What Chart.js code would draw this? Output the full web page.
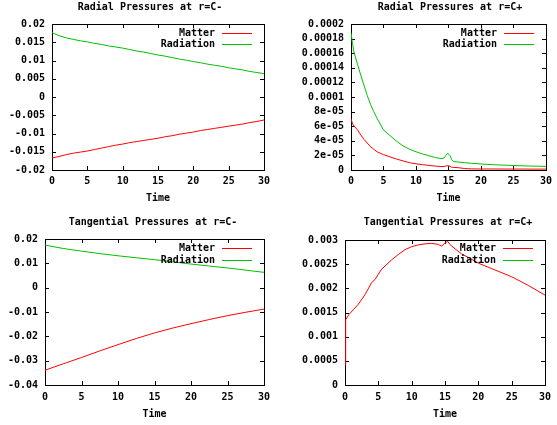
<!DOCTYPE html>
<html>
<head>
<meta charset="utf-8">
<script src="https://cdn.jsdelivr.net/npm/chart.js@4/dist/chart.umd.min.js"></script>
<style>
  html, body { margin: 0; padding: 0; background: #fff; }
  #wrap { position: relative; width: 557px; height: 425px; overflow: hidden; }
  canvas { position: absolute; }
</style>
</head>
<body>
<div id="wrap">
  <canvas id="c1" width="278" height="212" style="left:0;top:0"></canvas>
  <canvas id="c2" width="279" height="212" style="left:278px;top:0"></canvas>
  <canvas id="c3" width="278" height="213" style="left:0;top:212px"></canvas>
  <canvas id="c4" width="279" height="213" style="left:278px;top:212px"></canvas>
</div>
<script>
// ---------- DATA ----------
const seriesNames = ["Matter", "Radiation"];
const xLabel = "Time";
const xTicks = [0, 5, 10, 15, 20, 25, 30];

// Panel 1: Radial Pressures at r=C-
const radMinusTitle = "Radial Pressures at r=C-";
const radMinusTime = [0,1,2,3,4,5,6,7,8,9,10,11,12,13,14,15,16,17,18,19,20,21,22,23,24,25,26,27,28,29,30];
const radMinusMatter = [-0.0167,-0.0163,-0.0158,-0.0154,-0.0151,-0.0148,-0.0144,-0.0140,-0.0136,-0.0132,-0.0129,-0.0125,-0.0122,-0.0119,-0.0116,-0.0113,-0.0109,-0.0106,-0.0102,-0.0099,-0.0096,-0.0092,-0.0089,-0.0086,-0.0083,-0.0080,-0.0077,-0.0074,-0.0070,-0.0067,-0.0063];
const radMinusRadiation = [0.0176,0.0168,0.0162,0.0158,0.0154,0.0151,0.0147,0.0144,0.0140,0.0137,0.0134,0.0130,0.0126,0.0123,0.0119,0.0115,0.0112,0.0108,0.0104,0.0101,0.0097,0.0094,0.0090,0.0087,0.0084,0.0080,0.0077,0.0074,0.0070,0.0067,0.0064];
const radMinusYTicks = [-0.02,-0.015,-0.01,-0.005,0,0.005,0.01,0.015,0.02];

// Panel 2: Radial Pressures at r=C+
const radPlusTitle = "Radial Pressures at r=C+";
const radPlusTime = [0,0.25,0.5,1,1.5,2,2.5,3,3.5,4,5,6,7,8,9,10,11,12,13,14,14.3,14.6,14.9,15.2,15.5,15.8,16.5,17.5,18.5,20,22,24,26,28,30];
const radPlusMatter = [7.0e-5,6.3e-5,6.0e-5,5.5e-5,4.8e-5,4.2e-5,3.7e-5,3.2e-5,2.85e-5,2.5e-5,2.1e-5,1.8e-5,1.5e-5,1.25e-5,1.0e-5,8.5e-6,7.3e-6,6.3e-6,5.3e-6,4.7e-6,4.7e-6,5.5e-6,6.0e-6,5.0e-6,3.8e-6,3.5e-6,3.2e-6,2.0e-6,1.5e-6,1.4e-6,1.4e-6,1.3e-6,1.3e-6,1.2e-6,1.2e-6];
const radPlusRadiation = [1.88e-4,1.72e-4,1.60e-4,1.45e-4,1.30e-4,1.16e-4,1.02e-4,9.0e-5,8.0e-5,7.1e-5,5.5e-5,4.7e-5,3.95e-5,3.3e-5,2.85e-5,2.5e-5,2.2e-5,1.95e-5,1.7e-5,1.55e-5,1.65e-5,2.0e-5,2.3e-5,2.0e-5,1.4e-5,1.15e-5,1.1e-5,1.0e-5,9.2e-6,8.2e-6,7.2e-6,6.5e-6,5.8e-6,5.3e-6,5.0e-6];
const radPlusYTicks = [0,2e-5,4e-5,6e-5,8e-5,1e-4,1.2e-4,1.4e-4,1.6e-4,1.8e-4,2e-4];

// Panel 3: Tangential Pressures at r=C-
const tanMinusTitle = "Tangential Pressures at r=C-";
const tanMinusTime = [0,2.5,5,7.5,10,12.5,15,17.5,20,22.5,25,27.5,30];
const tanMinusMatter = [-0.0339,-0.0313,-0.0287,-0.0260,-0.0234,-0.0209,-0.0186,-0.0166,-0.0148,-0.0131,-0.0115,-0.0101,-0.0088];
const tanMinusRadiation = [0.0175,0.0161,0.0150,0.0140,0.0131,0.0123,0.0115,0.0106,0.0097,0.0089,0.0081,0.0072,0.0063];
const tanMinusYTicks = [-0.04,-0.03,-0.02,-0.01,0,0.01,0.02];

// Panel 4: Tangential Pressures at r=C+
const tanPlusTitle = "Tangential Pressures at r=C+";
const tanPlusTime = [0.08,0.1,0.6,2,3,4,4.5,5.4,6,7,8,9,10,11,12,13,14,14.5,15,15.4,15.8,16.5,17.5,18.5,20,22.5,25,27.5,30];
const tanPlusMatter = [0.00041,0.00135,0.00146,0.00167,0.00187,0.00212,0.00218,0.00238,0.00246,0.00259,0.00270,0.00280,0.00286,0.00290,0.00292,0.00293,0.00291,0.00287,0.00294,0.00297,0.00290,0.00282,0.00271,0.00264,0.00252,0.00238,0.00224,0.00206,0.00186];
const tanPlusRadiationTime = [];
const tanPlusRadiation = [];
const tanPlusYTicks = [0,0.0005,0.001,0.0015,0.002,0.0025,0.003];

// ---------- RENDERING ----------
const FONT = '"DejaVu Sans Mono", "Liberation Mono", monospace';
const colors = ['#ff0000', '#00c000'];

function gfmt(v) {
  if (Math.abs(v) < 1e-12) return '0';
  const e = Math.floor(Math.log10(Math.abs(v)) + 1e-9);
  if (e < -4) {
    const m = parseFloat((v / Math.pow(10, e)).toPrecision(6));
    const ee = -e;
    return m + 'e-' + (ee < 10 ? '0' : '') + ee;
  }
  return String(parseFloat(v.toPrecision(6)));
}

function pts(xs, ys) { return ys.map((y, i) => ({x: xs[i], y: y})); }

const decorPlugin = {
  id: 'decor',
  beforeDatasetsDraw(chart) {
    const ctx = chart.ctx;
    const a = chart.chartArea;
    const xs = chart.scales.x, ys = chart.scales.y;
    ctx.save();
    ctx.strokeStyle = '#000';
    ctx.lineWidth = 1;
    ctx.strokeRect(Math.round(a.left) + 0.5, Math.round(a.top) + 0.5, Math.round(a.right - a.left), Math.round(a.bottom - a.top));
    const tl = 4;
    ctx.beginPath();
    xs.ticks.forEach(t => {
      const px = Math.round(xs.getPixelForValue(t.value)) + 0.5;
      ctx.moveTo(px, a.bottom); ctx.lineTo(px, a.bottom - tl);
      ctx.moveTo(px, a.top); ctx.lineTo(px, a.top + tl);
    });
    ys.ticks.forEach(t => {
      const py = Math.round(ys.getPixelForValue(t.value)) + 0.5;
      ctx.moveTo(a.left, py); ctx.lineTo(a.left + tl, py);
      ctx.moveTo(a.right, py); ctx.lineTo(a.right - tl, py);
    });
    ctx.stroke();
    ctx.restore();
  },
  afterDraw(chart, args, opts) {
    const ctx = chart.ctx;
    const a = chart.chartArea;
    ctx.save();
    ctx.fillStyle = '#000';
    ctx.font = 'bold 10px ' + FONT;
    ctx.textAlign = 'center';
    ctx.textBaseline = 'middle';
    ctx.fillText(opts.title, opts.titleX, opts.titleY);
    chart.data.datasets.forEach((ds, i) => {
      const y = Math.round(a.top + opts.legendTop + i * opts.legendStep) + 0.5;
      ctx.textAlign = 'right';
      ctx.fillStyle = '#000';
      ctx.fillText(ds.label, a.right - 49, y);
      ctx.strokeStyle = colors[i];
      ctx.lineWidth = 1;
      ctx.beginPath();
      ctx.moveTo(a.right - 42, y);
      ctx.lineTo(a.right - 12, y);
      ctx.stroke();
    });
    ctx.restore();
  }
};

function makePanel(id, p) {
  const datasets = p.series.map((s, i) => ({
    label: seriesNames[i],
    data: pts(s.t, s.v),
    borderColor: colors[i],
    backgroundColor: colors[i],
    borderWidth: 1,
    pointRadius: 0,
    tension: 0,
    fill: false
  }));
  new Chart(document.getElementById(id), {
    type: 'line',
    data: { datasets },
    options: {
      responsive: false,
      animation: false,
      devicePixelRatio: 1,
      layout: { padding: { left: 0, top: p.padTop, right: p.padRight, bottom: 0 } },
      plugins: {
        legend: { display: false },
        tooltip: { enabled: false },
        decor: { title: p.title, titleX: p.titleX, titleY: p.titleY, legendTop: p.legendTop, legendStep: p.legendStep }
      },
      scales: {
        x: {
          type: 'linear', min: 0, max: 30,
          afterBuildTicks: s => { s.ticks = xTicks.map(v => ({value: v})); },
          afterFit: s => { s.height = p.xHeight; },
          grid: { display: false, drawTicks: false },
          border: { display: false },
          ticks: { autoSkip: false, maxRotation: 0, padding: p.xTickPad, color: '#000',
                   font: { family: FONT, size: 10, weight: 'bold' }, callback: v => gfmt(v) },
          title: { display: true, text: xLabel, color: '#000',
                   font: { family: FONT, size: 10, weight: 'bold' },
                   padding: { top: 0, bottom: p.xTitlePad } }
        },
        y: {
          type: 'linear', min: p.yTicks[0], max: p.yTicks[p.yTicks.length - 1],
          afterBuildTicks: s => { s.ticks = p.yTicks.map(v => ({value: v})); },
          afterFit: s => { s.width = p.yWidth; },
          grid: { display: false, drawTicks: false },
          border: { display: false },
          ticks: { autoSkip: false, padding: 7, color: '#000',
                   font: { family: FONT, size: 10, weight: 'bold' }, callback: v => gfmt(v) }
        }
      }
    },
    plugins: [decorPlugin]
  });
}

makePanel('c1', {
  title: radMinusTitle, titleX: 150, titleY: 7,
  series: [{t: radMinusTime, v: radMinusMatter}, {t: radMinusTime, v: radMinusRadiation}],
  yTicks: radMinusYTicks, padTop: 24, padRight: 14, yWidth: 52, xHeight: 42,
  xTickPad: 5, xTitlePad: 8, legendTop: 9.3, legendStep: 11
});
makePanel('c2', {
  title: radPlusTitle, titleX: 172, titleY: 7,
  series: [{t: radPlusTime, v: radPlusMatter}, {t: radPlusTime, v: radPlusRadiation}],
  yTicks: radPlusYTicks, padTop: 24, padRight: 5, yWidth: 73, xHeight: 42,
  xTickPad: 5, xTitlePad: 8, legendTop: 9.3, legendStep: 11
});
makePanel('c3', {
  title: tanMinusTitle, titleX: 153, titleY: 10.5,
  series: [{t: tanMinusTime, v: tanMinusMatter}, {t: tanMinusTime, v: tanMinusRadiation}],
  yTicks: tanMinusYTicks, padTop: 27, padRight: 14, yWidth: 45, xHeight: 40,
  xTickPad: 6, xTitlePad: 5, legendTop: 9.4, legendStep: 11.6
});
makePanel('c4', {
  title: tanPlusTitle, titleX: 170, titleY: 10.5,
  series: [{t: tanPlusTime, v: tanPlusMatter}, {t: tanPlusRadiationTime, v: tanPlusRadiation}],
  yTicks: tanPlusYTicks, padTop: 28, padRight: 5, yWidth: 67, xHeight: 40,
  xTickPad: 6, xTitlePad: 5, legendTop: 8.4, legendStep: 11.6
});
</script>
</body>
</html>
